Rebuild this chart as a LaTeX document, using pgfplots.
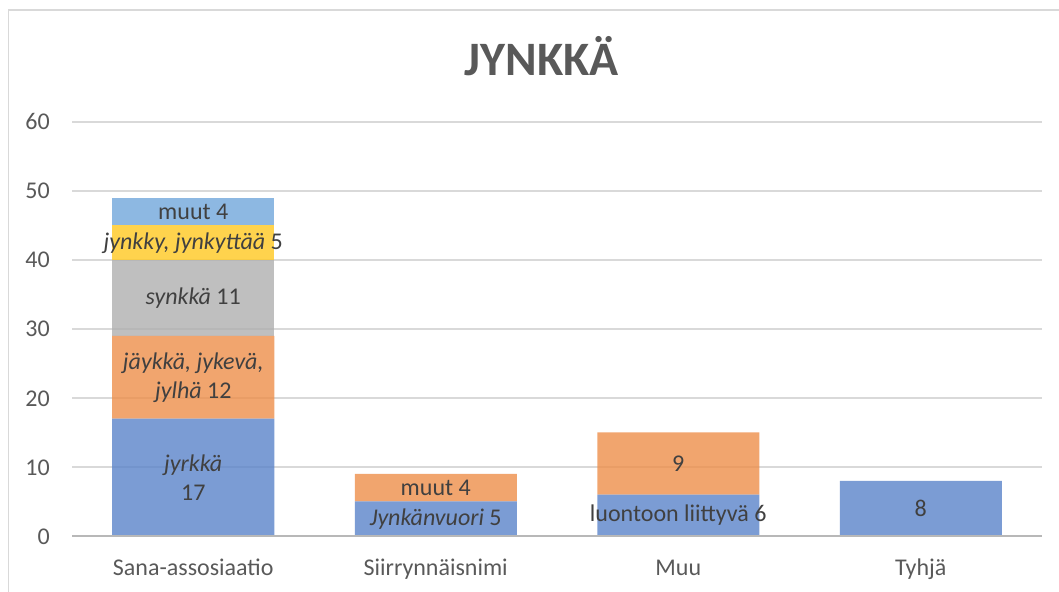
\documentclass[border=0pt]{standalone}
\usepackage{pgfplots}
\pgfplotsset{compat=1.18}
\usepackage{fontspec}
\setmainfont{Carlito}
\definecolor{cblue}{RGB}{90,131,201}
\definecolor{corange}{RGB}{238,142,74}
\definecolor{cgray}{RGB}{175,175,175}
\definecolor{cyellow}{RGB}{255,200,33}
\definecolor{clight}{RGB}{112,166,219}
\definecolor{tickgray}{RGB}{89,89,89}
\definecolor{labelgray}{RGB}{64,64,64}
\tikzset{lbl/.style={align=center, font=\fontsize{24bp}{29bp}\selectfont, text=labelgray, inner sep=0pt}}

\begin{document}
\begin{tikzpicture}
\path[use as bounding box] (0bp,0bp) rectangle (1059bp,592bp);
\draw[color=black!15, line width=1.2bp] (8.5bp,0bp) -- (8.5bp,582bp) -- (1059bp,582bp);
\node[anchor=base, text=tickgray, font=\fontsize{48bp}{52bp}\bfseries\selectfont] at (541.7bp,516.3bp) {JYNKKÄ};
\begin{axis}[
    at={(72bp,56bp)}, anchor=south west,
    scale only axis, width=970bp, height=414bp,
    xmin=-0.5, xmax=3.5, ymin=0, ymax=60,
    ytick={0,10,...,60},
    xtick=data,
    xticklabels={Sana-assosiaatio,Siirrynnäisnimi,Muu,Tyhjä},
    ybar stacked, bar width=162bp,
    axis line style={draw=none},
    major tick length=0pt,
    ymajorgrids, grid style={draw=black!15, line width=1.2bp},
    ticklabel style={font=\fontsize{24bp}{28bp}\selectfont, text=tickgray, inner sep=0pt},
    yticklabel style={anchor=base east, xshift=-22bp, yshift=-8bp},
    xticklabel style={anchor=base, yshift=-39bp},
    /pgf/number format/assume math mode=true,
]
% blue
\addplot[fill=cblue, fill opacity=0.8, draw=none] coordinates {(0,17) (1,5) (2,6) (3,8)};
% orange
\addplot[fill=corange, fill opacity=0.8, draw=none] coordinates {(0,12) (1,4) (2,9) (3,0)};
% gray
\addplot[fill=cgray, fill opacity=0.8, draw=none] coordinates {(0,11) (1,0) (2,0) (3,0)};
% yellow
\addplot[fill=cyellow, fill opacity=0.8, draw=none] coordinates {(0,5) (1,0) (2,0) (3,0)};
% light blue
\addplot[fill=clight, fill opacity=0.8, draw=none] coordinates {(0,4) (1,0) (2,0) (3,0)};

% anchors for the segment labels (centre of each piece)
\coordinate (bl) at (rel axis cs:0,0);
\coordinate (br) at (rel axis cs:1,0);
\coordinate (s1) at (axis cs:0,8.5);
\coordinate (s2) at (axis cs:0,23);
\coordinate (s3) at (axis cs:0,34.5);
\coordinate (s4) at (axis cs:0,42.5);
\coordinate (s5) at (axis cs:0,47);
\coordinate (r1) at (axis cs:1,2.5);
\coordinate (r2) at (axis cs:1,7);
\coordinate (m1) at (axis cs:2,3);
\coordinate (m2) at (axis cs:2,10.5);
\coordinate (t1) at (axis cs:3,4);
\end{axis}
\draw[black!28, line width=1.2bp] (bl) -- (br);
\node[lbl] at (s1) {\textit{jyrkkä}\\17};
\node[lbl] at (s2) {\textit{jäykkä, jykevä,}\\\textit{jylhä} 12};
\node[lbl] at (s3) {\textit{synkkä} 11};
\node[lbl] at (s4) {\textit{jynkky, jynkyttää} 5};
\node[lbl] at (s5) {muut 4};
\node[lbl] at (r1) {\textit{Jynkänvuori} 5};
\node[lbl] at (r2) {muut 4};
\node[lbl] at (m1) {luontoon liittyvä 6};
\node[lbl] at (m2) {9};
\node[lbl] at (t1) {8};
\end{tikzpicture}
\end{document}
